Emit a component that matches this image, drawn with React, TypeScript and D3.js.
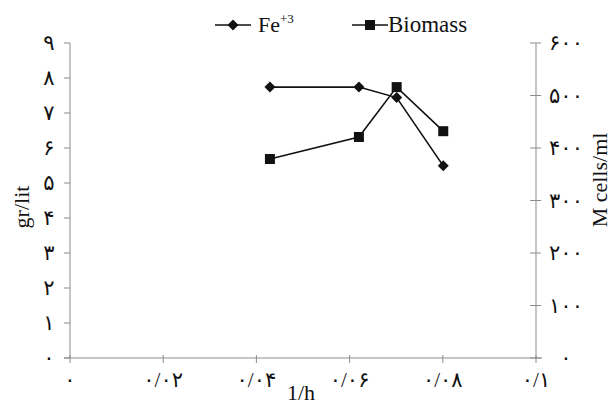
import React from "react";
import * as d3 from "d3";

// Dilution-rate axis (1/h) and the two measured series
const rates = [0.0429, 0.062, 0.0701, 0.0801];
const ironValues = [7.74, 7.74, 7.44, 5.49]; // Fe+3, gr/lit (left axis)
const biomassValues = [379, 421, 516, 432]; // M cells/ml (right axis)

const xTicks = [0, 0.02, 0.04, 0.06, 0.08, 0.1];
const xTickLabels = ["۰", "۰/۰۲", "۰/۰۴", "۰/۰۶", "۰/۰۸", "۰/۱"];
const leftTicks = [0, 1, 2, 3, 4, 5, 6, 7, 8, 9];
const leftTickLabels = ["۰", "۱", "۲", "۳", "۴", "۵", "۶", "۷", "۸", "۹"];
const rightTicks = [0, 100, 200, 300, 400, 500, 600];
const rightTickLabels = ["۰", "۱۰۰", "۲۰۰", "۳۰۰", "۴۰۰", "۵۰۰", "۶۰۰"];

const W = 616;
const H = 407;
const serif = "'Liberation Serif', 'Times New Roman', serif";
const digitFont = "'Liberation Serif', 'DejaVu Sans', serif";
const axisColor = "#8c8c8c";
const ink = "#111";

export default function App() {
  const x = d3.scaleLinear().domain([0, 0.1]).range([70, 536]);
  const yL = d3.scaleLinear().domain([0, 9]).range([358, 43]);
  const yR = d3.scaleLinear().domain([0, 600]).range([358, 43]);

  const ironLine = d3
    .line<number>()
    .x((_, i) => x(rates[i]))
    .y((d) => yL(d))(ironValues);
  const bioLine = d3
    .line<number>()
    .x((_, i) => x(rates[i]))
    .y((d) => yR(d))(biomassValues);

  const diamond = (cx: number, cy: number, r = 5.5) =>
    `M${cx},${cy - r}L${cx + r},${cy}L${cx},${cy + r}L${cx - r},${cy}Z`;

  const x0 = x(0);
  const x1 = x(0.1);
  const yBase = yL(0);

  return (
    <svg
      width={W}
      height={H}
      style={{ position: "absolute", left: 0, top: 0, background: "#fff" }}
    >
      {/* legend */}
      <g>
        <line x1={215} x2={251} y1={25} y2={25} stroke={ink} strokeWidth={1.6} />
        <path d={diamond(233, 25)} fill={ink} />
        <text x={258} y={32} fontFamily={serif} fontSize={22} fill={ink}>
          Fe
          <tspan dy={-9} fontSize={13}>+3</tspan>
        </text>
        <line x1={352} x2={388} y1={25} y2={25} stroke={ink} strokeWidth={1.6} />
        <rect x={365} y={20} width={10} height={10} fill={ink} />
        <text x={388} y={32} fontFamily={serif} fontSize={23} fill={ink}>
          Biomass
        </text>
      </g>

      {/* x axis */}
      <line x1={x0 - 6} x2={x1 + 6} y1={yBase} y2={yBase} stroke={axisColor} strokeWidth={1} />
      {xTicks.map((t, i) => (
        <g key={`xt${i}`}>
          <line x1={x(t)} x2={x(t)} y1={yBase - 3} y2={yBase + 5} stroke={axisColor} />
          <text
            x={x(t)}
            y={387}
            textAnchor="middle"
            fontFamily={digitFont}
            fontSize={21}
            fill={ink}
          >
            {xTickLabels[i]}
          </text>
        </g>
      ))}
      <text x={301} y={400} textAnchor="middle" fontFamily={serif} fontSize={22} fill={ink}>
        1/h
      </text>

      {/* left axis */}
      <line x1={x0} x2={x0} y1={yL(9)} y2={yBase} stroke={axisColor} />
      {leftTicks.map((t, i) => (
        <g key={`lt${i}`}>
          <line x1={x0 - 6} x2={x0} y1={yL(t)} y2={yL(t)} stroke={axisColor} />
          <text
            x={49}
            y={yL(t) + 7}
            textAnchor="middle"
            fontFamily={digitFont}
            fontSize={21}
            fill={ink}
          >
            {leftTickLabels[i]}
          </text>
        </g>
      ))}
      <text
        transform={`translate(29,207) rotate(-90)`}
        textAnchor="middle"
        fontFamily={serif}
        fontSize={22}
        fill={ink}
      >
        gr/lit
      </text>

      {/* right axis */}
      <line x1={x1} x2={x1} y1={yR(600)} y2={yBase} stroke={axisColor} />
      {rightTicks.map((t, i) => (
        <g key={`rt${i}`}>
          <line x1={x1 - 6} x2={x1 + 5} y1={yR(t)} y2={yR(t)} stroke={axisColor} />
          <text
            x={566}
            y={yR(t) + 7}
            textAnchor="middle"
            fontFamily={digitFont}
            fontSize={21}
            fill={ink}
          >
            {rightTickLabels[i]}
          </text>
        </g>
      ))}
      <text
        transform={`translate(607,180) rotate(-90)`}
        textAnchor="middle"
        fontFamily={serif}
        fontSize={22}
        fill={ink}
      >
        M cells/ml
      </text>

      {/* series */}
      <path d={ironLine ?? ""} fill="none" stroke={ink} strokeWidth={1.6} />
      <path d={bioLine ?? ""} fill="none" stroke={ink} strokeWidth={1.6} />
      {ironValues.map((v, i) => (
        <path key={`fe${i}`} d={diamond(x(rates[i]), yL(v))} fill={ink} />
      ))}
      {biomassValues.map((v, i) => (
        <rect
          key={`bm${i}`}
          x={x(rates[i]) - 5}
          y={yR(v) - 5}
          width={10}
          height={10}
          fill={ink}
        />
      ))}
    </svg>
  );
}
